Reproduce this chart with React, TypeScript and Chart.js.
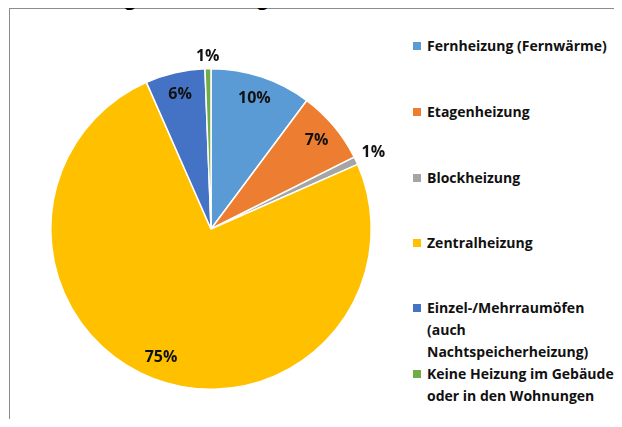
import React, { useEffect, useRef } from "react";
import { Chart, registerables } from "chart.js";

Chart.register(...registerables);

const categories = [
  "Fernheizung (Fernwärme)",
  "Etagenheizung",
  "Blockheizung",
  "Zentralheizung",
  "Einzel-/Mehrraumöfen (auch Nachtspeicherheizung)",
  "Keine Heizung im Gebäude oder in den Wohnungen",
];
const legendLines = [
  ["Fernheizung (Fernwärme)"],
  ["Etagenheizung"],
  ["Blockheizung"],
  ["Zentralheizung"],
  ["Einzel-/Mehrraumöfen", "(auch", "Nachtspeicherheizung)"],
  ["Keine Heizung im Gebäude", "oder in den Wohnungen"],
];
const values = [10.2, 7.4, 0.8, 75.0, 6.0, 0.6];
const percentLabels = ["10%", "7%", "1%", "75%", "6%", "1%"];
const colors = ["#5B9BD5", "#ED7D31", "#A5A5A5", "#FFC000", "#4472C4", "#70AD47"];
const legendTops = [37, 103, 169, 234, 299, 365];
const titleText = "Beheizung der Wohnungen";

const FONT = "'Open Sans', Lato, sans-serif";

const labelPlugin = {
  id: "sliceLabels",
  afterDatasetsDraw(chart: any) {
    const ctx = chart.ctx;
    const meta = chart.getDatasetMeta(0);
    ctx.save();
    ctx.font = `bold 16px ${FONT}`;
    ctx.fillStyle = "#111";
    ctx.textBaseline = "middle";
    ctx.textAlign = "center";
    meta.data.forEach((arc: any, i: number) => {
      const p = arc.getProps(["x", "y", "startAngle", "endAngle", "outerRadius"], true);
      const mid = (p.startAngle + p.endAngle) / 2;
      const v = values[i];
      let d;
      if (v < 2) {
        d = p.outerRadius + 12 + 8 * Math.abs(Math.cos(mid));
      } else {
        d = p.outerRadius * 0.86;
      }
      ctx.fillText(percentLabels[i], p.x + Math.cos(mid) * d, p.y + Math.sin(mid) * d);
    });
    ctx.restore();
  },
};

export default function App() {
  const ref = useRef<HTMLCanvasElement | null>(null);
  useEffect(() => {
    if (!ref.current) return;
    const chart = new Chart(ref.current, {
      type: "pie",
      data: {
        labels: categories,
        datasets: [
          {
            data: values,
            backgroundColor: colors,
            borderColor: "#ffffff",
            borderWidth: 1.5,
          },
        ],
      },
      options: {
        animation: false,
        responsive: false,
        maintainAspectRatio: false,
        layout: { padding: 29 },
        plugins: {
          legend: { display: false },
          tooltip: { enabled: false },
          title: { display: false },
        },
      },
      plugins: [labelPlugin],
    });
    return () => chart.destroy();
  }, []);

  return (
    <div
      style={{
        position: "relative",
        width: 613,
        height: 410,
        borderLeft: "1px solid #8c8c8c",
        borderTop: "1px solid #8c8c8c",
        marginLeft: 1,
        fontFamily: FONT,
        background: "#fff",
      }}
    >
      <div
        style={{
          position: "absolute",
          left: 27,
          top: -22,
          height: 22,
          overflow: "visible",
          fontSize: 19,
          fontWeight: 700,
          color: "#000",
          whiteSpace: "nowrap",
          lineHeight: "22px",
          zIndex: 2,
        }}
      >
        {titleText}
      </div>
      <canvas
        ref={ref}
        width={380}
        height={380}
        style={{ position: "absolute", left: 11, top: 30, width: 380, height: 380 }}
      />
      {legendLines.map((lines, i) => (
        <div key={i}>
          <div
            style={{
              position: "absolute",
              left: 403,
              top: legendTops[i] - 4,
              width: 8,
              height: 8,
              background: colors[i],
            }}
          />
          <div
            style={{
              position: "absolute",
              left: 417,
              top: legendTops[i] - 11,
              fontSize: 14,
              fontWeight: 700,
              lineHeight: "22px",
              color: "#111",
              whiteSpace: "nowrap",
            }}
          >
            {lines.map((l, j) => (
              <div key={j}>{l}</div>
            ))}
          </div>
        </div>
      ))}
    </div>
  );
}
